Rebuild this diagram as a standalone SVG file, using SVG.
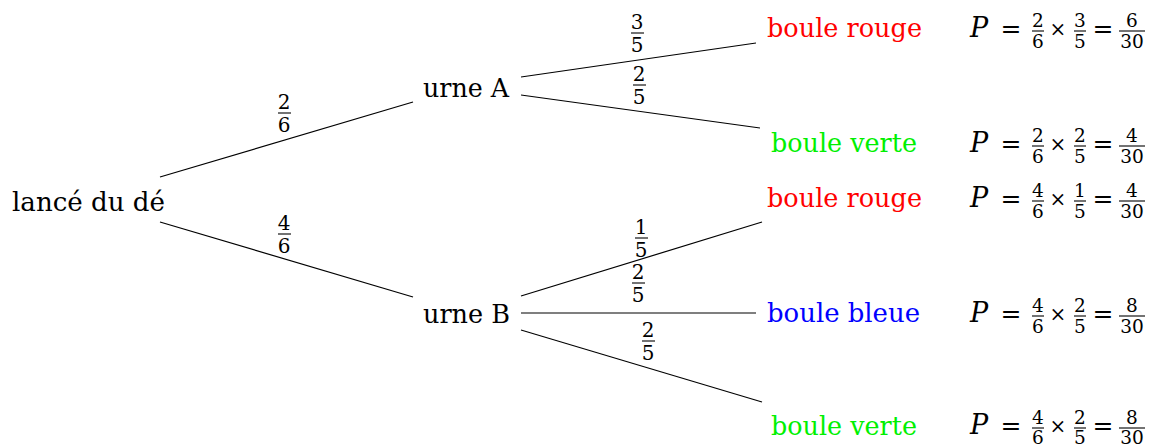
<svg xmlns="http://www.w3.org/2000/svg" width="1149" height="447" viewBox="0 0 1149 447">
  <style>
    .node { font-family: "DejaVu Serif", "Liberation Serif", serif; font-size: 26px; fill: #000; }
    .red { fill: #ff0000; }
    .green { fill: #00f000; }
    .blue { fill: #0000ff; }
    .edge { stroke: #000; stroke-width: 1.2; fill: none; }
    .bar { stroke: #000; stroke-width: 1.1; }
    .fr { font-family: "DejaVu Serif", "Liberation Serif", serif; font-size: 20px; text-anchor: middle; fill: #000; }
    .sf { font-family: "DejaVu Serif", "Liberation Serif", serif; font-size: 18.5px; text-anchor: middle; fill: #000; }
    .op { font-family: "DejaVu Serif", "Liberation Serif", serif; font-size: 25px; text-anchor: middle; fill: #000; }
    .tm { font-family: "DejaVu Serif", "Liberation Serif", serif; font-size: 20px; text-anchor: middle; fill: #000; }
    .pv { font-family: "DejaVu Serif", "Liberation Serif", serif; font-size: 27px; font-style: italic; text-anchor: middle; fill: #000; }
  </style>

  <!-- branches -->
  <g id="connectors">
    <line class="edge" x1="160" y1="177" x2="413" y2="102"/>
    <line class="edge" x1="160" y1="222" x2="413" y2="297"/>
    <line class="edge" x1="521" y1="77" x2="756" y2="43"/>
    <line class="edge" x1="521" y1="95" x2="760" y2="128"/>
    <line class="edge" x1="521" y1="296" x2="762" y2="222"/>
    <line class="edge" x1="521" y1="313" x2="756" y2="313"/>
    <line class="edge" x1="521" y1="330" x2="762" y2="402"/>
  </g>

  <!-- branch probabilities -->
  <g id="edge-labels">
    <g id="p-start-A">
      <text class="fr" x="284" y="109">2</text>
      <line class="bar" x1="278" y1="113" x2="291" y2="113"/>
      <text class="fr" x="284" y="132">6</text>
    </g>
    <g id="p-start-B">
      <text class="fr" x="284" y="230">4</text>
      <line class="bar" x1="278" y1="234" x2="291" y2="234"/>
      <text class="fr" x="284" y="253">6</text>
    </g>
    <g id="p-A-rouge">
      <text class="fr" x="637" y="29">3</text>
      <line class="bar" x1="631" y1="33" x2="644" y2="33"/>
      <text class="fr" x="637" y="52">5</text>
    </g>
    <g id="p-A-verte">
      <text class="fr" x="639" y="81">2</text>
      <line class="bar" x1="633" y1="85" x2="646" y2="85"/>
      <text class="fr" x="639" y="104">5</text>
    </g>
    <g id="p-B-rouge">
      <text class="fr" x="641" y="234">1</text>
      <line class="bar" x1="635" y1="238" x2="648" y2="238"/>
      <text class="fr" x="641" y="257">5</text>
    </g>
    <g id="p-B-bleue">
      <text class="fr" x="638" y="279">2</text>
      <line class="bar" x1="632" y1="283" x2="645" y2="283"/>
      <text class="fr" x="638" y="302">5</text>
    </g>
    <g id="p-B-verte">
      <text class="fr" x="648" y="337">2</text>
      <line class="bar" x1="642" y1="341" x2="655" y2="341"/>
      <text class="fr" x="648" y="360">5</text>
    </g>
  </g>

  <!-- tree nodes -->
  <g id="start"><text class="node" x="12" y="211" textLength="153" lengthAdjust="spacingAndGlyphs">lancé du dé</text></g>
  <g id="urne-A"><text class="node" x="423" y="97" textLength="86" lengthAdjust="spacingAndGlyphs">urne A</text></g>
  <g id="urne-B"><text class="node" x="423" y="323" textLength="87" lengthAdjust="spacingAndGlyphs">urne B</text></g>
  <g id="A-rouge"><text class="node red" x="767" y="37" textLength="155" lengthAdjust="spacingAndGlyphs">boule rouge</text></g>
  <g id="A-verte"><text class="node green" x="771" y="152" textLength="146" lengthAdjust="spacingAndGlyphs">boule verte</text></g>
  <g id="B-rouge"><text class="node red" x="767" y="207" textLength="155" lengthAdjust="spacingAndGlyphs">boule rouge</text></g>
  <g id="B-bleue"><text class="node blue" x="767" y="322" textLength="153" lengthAdjust="spacingAndGlyphs">boule bleue</text></g>
  <g id="B-verte"><text class="node green" x="771" y="435" textLength="146" lengthAdjust="spacingAndGlyphs">boule verte</text></g>

  <!-- path probabilities -->
  <g id="prob-1" transform="translate(0,37)">
    <text class="pv" x="979" y="0">P</text>
    <text class="op" x="1011" y="0">=</text>
    <text class="sf" x="1038" y="-10">2</text><line class="bar" x1="1032" y1="-6" x2="1044" y2="-6"/><text class="sf" x="1038" y="11">6</text>
    <text class="tm" x="1058" y="-1">×</text>
    <text class="sf" x="1080" y="-10">3</text><line class="bar" x1="1074" y1="-6" x2="1086" y2="-6"/><text class="sf" x="1080" y="11">5</text>
    <text class="op" x="1103" y="0">=</text>
    <text class="sf" x="1132" y="-10">6</text><line class="bar" x1="1119" y1="-6" x2="1145" y2="-6"/><text class="sf" x="1132" y="11">30</text>
  </g>
  <g id="prob-2" transform="translate(0,152)">
    <text class="pv" x="979" y="0">P</text>
    <text class="op" x="1011" y="0">=</text>
    <text class="sf" x="1038" y="-10">2</text><line class="bar" x1="1032" y1="-6" x2="1044" y2="-6"/><text class="sf" x="1038" y="11">6</text>
    <text class="tm" x="1058" y="-1">×</text>
    <text class="sf" x="1080" y="-10">2</text><line class="bar" x1="1074" y1="-6" x2="1086" y2="-6"/><text class="sf" x="1080" y="11">5</text>
    <text class="op" x="1103" y="0">=</text>
    <text class="sf" x="1132" y="-10">4</text><line class="bar" x1="1119" y1="-6" x2="1145" y2="-6"/><text class="sf" x="1132" y="11">30</text>
  </g>
  <g id="prob-3" transform="translate(0,207)">
    <text class="pv" x="979" y="0">P</text>
    <text class="op" x="1011" y="0">=</text>
    <text class="sf" x="1038" y="-10">4</text><line class="bar" x1="1032" y1="-6" x2="1044" y2="-6"/><text class="sf" x="1038" y="11">6</text>
    <text class="tm" x="1058" y="-1">×</text>
    <text class="sf" x="1080" y="-10">1</text><line class="bar" x1="1074" y1="-6" x2="1086" y2="-6"/><text class="sf" x="1080" y="11">5</text>
    <text class="op" x="1103" y="0">=</text>
    <text class="sf" x="1132" y="-10">4</text><line class="bar" x1="1119" y1="-6" x2="1145" y2="-6"/><text class="sf" x="1132" y="11">30</text>
  </g>
  <g id="prob-4" transform="translate(0,322)">
    <text class="pv" x="979" y="0">P</text>
    <text class="op" x="1011" y="0">=</text>
    <text class="sf" x="1038" y="-10">4</text><line class="bar" x1="1032" y1="-6" x2="1044" y2="-6"/><text class="sf" x="1038" y="11">6</text>
    <text class="tm" x="1058" y="-1">×</text>
    <text class="sf" x="1080" y="-10">2</text><line class="bar" x1="1074" y1="-6" x2="1086" y2="-6"/><text class="sf" x="1080" y="11">5</text>
    <text class="op" x="1103" y="0">=</text>
    <text class="sf" x="1132" y="-10">8</text><line class="bar" x1="1119" y1="-6" x2="1145" y2="-6"/><text class="sf" x="1132" y="11">30</text>
  </g>
  <g id="prob-5" transform="translate(0,434)">
    <text class="pv" x="979" y="0">P</text>
    <text class="op" x="1011" y="0">=</text>
    <text class="sf" x="1038" y="-10">4</text><line class="bar" x1="1032" y1="-6" x2="1044" y2="-6"/><text class="sf" x="1038" y="10">6</text>
    <text class="tm" x="1058" y="-1">×</text>
    <text class="sf" x="1080" y="-10">2</text><line class="bar" x1="1074" y1="-6" x2="1086" y2="-6"/><text class="sf" x="1080" y="10">5</text>
    <text class="op" x="1103" y="0">=</text>
    <text class="sf" x="1132" y="-10">8</text><line class="bar" x1="1119" y1="-6" x2="1145" y2="-6"/><text class="sf" x="1132" y="10">30</text>
  </g>
</svg>
